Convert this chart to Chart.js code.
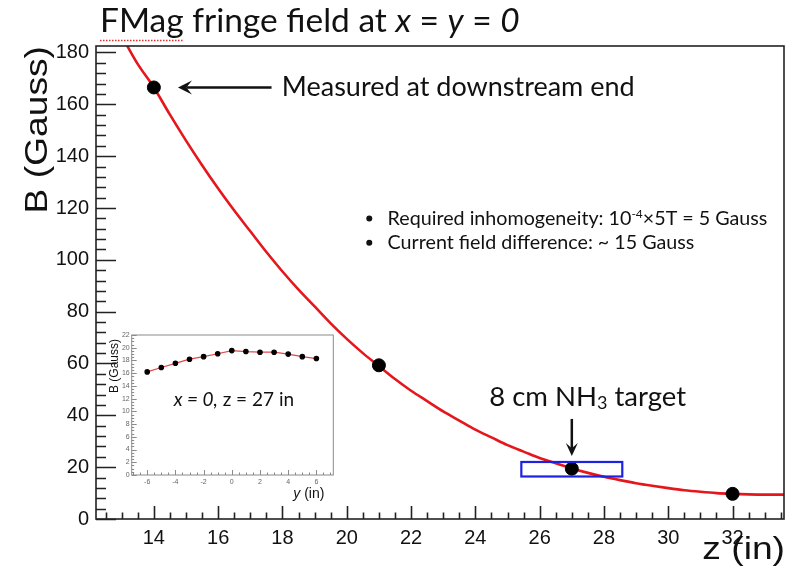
<!DOCTYPE html>
<html>
<head>
<meta charset="utf-8">
<script src="https://cdn.jsdelivr.net/npm/chart.js@4.4.0/dist/chart.umd.min.js"></script>
<style>
  html, body { margin: 0; padding: 0; background: #fff; }
  #wrap { position: relative; width: 796px; height: 567px; }
  #main { position: absolute; left: 0; top: 0; }
  #inset { position: absolute; left: 100px; top: 322px; }
</style>
</head>
<body>
<div id="wrap">
  <canvas id="main" width="796" height="567"></canvas>
  <canvas id="inset" width="245" height="180"></canvas>
</div>
<script>
// field along the axis (red curve), z in inches, B in Gauss
const curveZ = [13.15, 13.5, 14, 14.5, 15, 15.5, 16, 16.5, 17, 17.5, 18, 18.5, 19, 19.5, 20, 20.5,
  21, 21.5, 22, 22.5, 23, 23.5, 24, 24.5, 25, 25.5, 26, 26.5, 27, 27.5, 28, 28.5, 29, 29.5,
  30, 30.5, 31, 31.5, 32, 32.5, 33, 33.6];
const curveB = [183, 175.5, 166.5, 156, 146, 136.5, 127.5, 119, 111, 103, 95.5, 88.5, 82, 75.5, 69.5, 64,
  59, 54, 49.5, 45.5, 41.5, 38, 34.5, 31.5, 28.5, 26, 23.5, 21.5, 19.5, 17.8, 16.3, 15, 13.8, 12.8,
  11.9, 11.1, 10.5, 10, 9.7, 9.5, 9.4, 9.4];

// measured points
const measZ = [14, 21, 27, 32];
const measB = [166.5, 59.3, 19.4, 9.7];

// tick labels
const zTicks = [14, 16, 18, 20, 22, 24, 26, 28, 30, 32];
const bTicks = [0, 20, 40, 60, 80, 100, 120, 140, 160, 180];

// NH3 target extent (z) and box height (B)
const targetZ = [25.43, 28.57];
const targetB = [16.4, 22];

// inset: transverse scan at x = 0, z = 27 in
const insetY = [-6, -5, -4, -3, -2, -1, 0, 1, 2, 3, 4, 5, 6];
const insetB = [16.2, 16.9, 17.55, 18.2, 18.6, 19.05, 19.55, 19.4, 19.3, 19.3, 19.0, 18.6, 18.3];
const insetYTicks = [-6, -4, -2, 0, 2, 4, 6];
const insetBTicks = [0, 2, 4, 6, 8, 10, 12, 14, 16, 18, 20, 22];

const RED = '#e5161c';
const INK = '#111';
const GILL = 'Lato, "Open Sans", sans-serif';
const HELV = '"Liberation Sans", Arial, sans-serif';

// ROOT-like frame with inward ticks
const frameTicks = {
  id: 'frameTicks',
  afterDatasetsDraw(chart, args, o) {
    const { ctx, chartArea: a, scales: { x, y } } = chart;
    ctx.save();
    ctx.strokeStyle = o.color;
    ctx.lineWidth = o.lw;
    ctx.strokeRect(a.left, a.top, a.right - a.left, a.bottom - a.top);
    ctx.beginPath();
    const isMajor = (v, m) => Math.abs(v / m - Math.round(v / m)) < 1e-6;
    for (let v = Math.ceil(x.min / o.xMinor) * o.xMinor; v <= x.max + 1e-9; v += o.xMinor) {
      const px = Math.round(x.getPixelForValue(v)) + 0.5;
      const len = isMajor(v, o.xMajor) ? o.xLen : o.xLen / 2;
      ctx.moveTo(px, a.bottom);
      ctx.lineTo(px, a.bottom - len);
    }
    for (let v = Math.ceil(y.min / o.yMinor) * o.yMinor; v <= y.max + 1e-9; v += o.yMinor) {
      const py = Math.round(y.getPixelForValue(v)) + 0.5;
      const len = isMajor(v, o.yMajor) ? o.yLen : o.yLen / 2;
      ctx.moveTo(a.left, py);
      ctx.lineTo(a.left + len, py);
    }
    ctx.stroke();
    ctx.restore();
  }
};

function drawRuns(ctx, runs, x, y) {
  ctx.textAlign = 'left';
  ctx.textBaseline = 'alphabetic';
  for (const [t, f, dy] of runs) {
    ctx.font = f;
    ctx.fillText(t, x, y + (dy || 0));
    x += ctx.measureText(t).width;
  }
  return x;
}

function runsWidth(ctx, runs) {
  let w = 0;
  for (const [t, f] of runs) { ctx.font = f; w += ctx.measureText(t).width; }
  return w;
}

function arrow(ctx, x1, y1, x2, y2, head, half) {
  const c = Math.cos(Math.atan2(y2 - y1, x2 - x1));
  const s = Math.sin(Math.atan2(y2 - y1, x2 - x1));
  ctx.beginPath();
  ctx.moveTo(x1, y1);
  ctx.lineTo(x2 - c * head * 0.6, y2 - s * head * 0.6);
  ctx.stroke();
  ctx.beginPath();
  ctx.moveTo(x2, y2);
  ctx.lineTo(x2 - c * head - s * half, y2 - s * head + c * half);
  ctx.lineTo(x2 - c * head * 0.6, y2 - s * head * 0.6);
  ctx.lineTo(x2 - c * head + s * half, y2 - s * head - c * half);
  ctx.closePath();
  ctx.fill();
}

// titles and slide annotations
const annotations = {
  id: 'annotations',
  afterDraw(chart) {
    const { ctx, chartArea: a, scales: { x, y } } = chart;
    ctx.save();
    ctx.fillStyle = INK;
    ctx.strokeStyle = INK;

    // title
    const tN = '33.5px ' + GILL, tI = 'italic 33.5px ' + GILL;
    ctx.font = tN;
    const fmagW = ctx.measureText('FMag').width;
    drawRuns(ctx, [['FMag fringe field at ', tN], ['x', tI], [' = ', tN], ['y', tI], [' = ', tN], ['0', tI]], 100, 32);
    ctx.save();
    ctx.strokeStyle = '#e03030';
    ctx.lineWidth = 1.5;
    ctx.setLineDash([1.5, 1.5]);
    ctx.beginPath();
    ctx.moveTo(100, 40.5);
    ctx.lineTo(100 + fmagW, 40.5);
    ctx.stroke();
    ctx.restore();

    // axis titles (slightly stretched along the text, like the ROOT output)
    ctx.font = '31px ' + HELV;
    ctx.save();
    ctx.translate(38, a.top);
    ctx.rotate(-Math.PI / 2);
    ctx.scale(1.2, 1);
    ctx.textAlign = 'right';
    ctx.textBaseline = 'middle';
    ctx.fillText('B (Gauss)', 0, 0);
    ctx.restore();
    ctx.save();
    ctx.translate(a.right + 1, 559);
    ctx.scale(1.2, 1);
    ctx.textAlign = 'right';
    ctx.textBaseline = 'alphabetic';
    ctx.fillText('z (in)', 0, 0);
    ctx.restore();

    // measured-at-downstream-end arrow
    ctx.lineWidth = 2.5;
    const yM = y.getPixelForValue(measB[0]);
    arrow(ctx, x.getPixelForValue(17.66), yM, x.getPixelForValue(14.75), yM, 14, 7);
    drawRuns(ctx, [['Measured at downstream end', '27px ' + GILL]], x.getPixelForValue(17.98), yM + 9);

    // bullets
    const bF = '19.7px ' + GILL, bS = '12px ' + GILL;
    const bx = x.getPixelForValue(20.7), tx = x.getPixelForValue(21.27);
    const b1 = y.getPixelForValue(115.9), b2 = y.getPixelForValue(106.6);
    [b1, b2].forEach(py => { ctx.beginPath(); ctx.arc(bx, py, 3, 0, Math.PI * 2); ctx.fill(); });
    drawRuns(ctx, [['Required inhomogeneity: 10', bF], ['-4', bS, -7], ['\u00d75T = 5 Gauss', bF]], tx, b1 + 6);
    drawRuns(ctx, [['Current field difference: ~ 15 Gauss', bF]], tx, b2 + 6);

    // target label, arrow and box
    const lF = '27.5px ' + GILL, lS = '18px ' + GILL;
    drawRuns(ctx, [['8 cm NH', lF], ['3', lS, 3], [' target', lF]], x.getPixelForValue(24.43), y.getPixelForValue(43.6));
    const xt = x.getPixelForValue(27);
    arrow(ctx, xt, y.getPixelForValue(38.6), xt, y.getPixelForValue(24.3), 13, 6);

    ctx.strokeStyle = '#1c22e0';
    ctx.lineWidth = 2.2;
    const bxL = x.getPixelForValue(targetZ[0]), bxR = x.getPixelForValue(targetZ[1]);
    const byT = y.getPixelForValue(targetB[1]), byB = y.getPixelForValue(targetB[0]);
    ctx.strokeRect(bxL, byT, bxR - bxL, byB - byT);
    ctx.restore();
  }
};

new Chart(document.getElementById('main'), {
  type: 'scatter',
  data: {
    datasets: [
      {
        type: 'line',
        data: curveZ.map((z, i) => ({ x: z, y: curveB[i] })),
        borderColor: RED,
        borderWidth: 2.6,
        pointRadius: 0,
        cubicInterpolationMode: 'monotone',
        fill: false,
        order: 2
      },
      {
        data: measZ.map((z, i) => ({ x: z, y: measB[i] })),
        backgroundColor: '#000',
        borderColor: '#000',
        pointRadius: 6.5,
        order: 1
      }
    ]
  },
  options: {
    responsive: false,
    animation: false,
    events: [],
    layout: { padding: { left: 0, top: 46, right: 12, bottom: 0 } },
    plugins: {
      legend: { display: false },
      tooltip: { enabled: false },
      frameTicks: { color: '#222', lw: 1.6, xMinor: 0.5, xMajor: 2, xLen: 13, yMinor: 4, yMajor: 20, yLen: 20 }
    },
    scales: {
      x: {
        type: 'linear', min: 12.2, max: 33.6,
        afterFit(s) { s.height = 48; },
        afterBuildTicks(s) { s.ticks = zTicks.map(v => ({ value: v })); },
        grid: { display: false, drawTicks: false },
        border: { display: false },
        ticks: { font: { family: HELV, size: 20 }, color: INK, padding: 7, maxRotation: 0 }
      },
      y: {
        type: 'linear', min: 0, max: 182.5,
        afterFit(s) { s.width = 96; },
        afterBuildTicks(s) { s.ticks = bTicks.map(v => ({ value: v })); },
        grid: { display: false, drawTicks: false },
        border: { display: false },
        ticks: { font: { family: HELV, size: 20 }, color: INK, padding: 7 }
      }
    }
  },
  plugins: [frameTicks, annotations]
});

// inset labels
const insetLabels = {
  id: 'insetLabels',
  afterDraw(chart) {
    const { ctx, chartArea: a, scales: { x, y } } = chart;
    ctx.save();
    ctx.fillStyle = INK;
    ctx.font = '12px ' + HELV;
    ctx.save();
    ctx.translate(15, a.top + 4);
    ctx.rotate(-Math.PI / 2);
    ctx.textAlign = 'right';
    ctx.textBaseline = 'middle';
    ctx.fillText('B (Gauss)', 0, 0);
    ctx.restore();
    drawRuns(ctx, [['y', 'italic 14px ' + HELV], [' (in)', '14px ' + HELV]], a.right - 40, a.bottom + 23);

    const f = '19px ' + GILL, fi = 'italic 19px ' + GILL;
    const runs = [['x = 0,', fi], [' z = 27 in', f]];
    const w = runsWidth(ctx, runs);
    drawRuns(ctx, runs, x.getPixelForValue(0.15) - w / 2, y.getPixelForValue(11.9) + 7);
    ctx.restore();
  }
};

new Chart(document.getElementById('inset'), {
  type: 'scatter',
  data: {
    datasets: [{
      type: 'line',
      data: insetY.map((v, i) => ({ x: v, y: insetB[i] })),
      borderColor: '#e04848',
      borderWidth: 1.2,
      pointRadius: 2.2,
      pointBackgroundColor: '#000',
      pointBorderColor: '#000',
      tension: 0,
      fill: false
    }]
  },
  options: {
    responsive: false,
    animation: false,
    events: [],
    layout: { padding: { left: 0, top: 13, right: 11.7, bottom: 0 } },
    plugins: {
      legend: { display: false },
      tooltip: { enabled: false },
      frameTicks: { color: '#8a8a8a', lw: 1, xMinor: 0.5, xMajor: 2, xLen: 5, yMinor: 0.5, yMajor: 2, yLen: 5 }
    },
    scales: {
      x: {
        type: 'linear', min: -7.1, max: 7.2,
        afterFit(s) { s.height = 27; },
        afterBuildTicks(s) { s.ticks = insetYTicks.map(v => ({ value: v })); },
        grid: { display: false, drawTicks: false },
        border: { display: false },
        ticks: { font: { family: HELV, size: 7 }, color: '#666', padding: 3, maxRotation: 0 }
      },
      y: {
        type: 'linear', min: 0, max: 22,
        afterFit(s) { s.width = 31.7; },
        afterBuildTicks(s) { s.ticks = insetBTicks.map(v => ({ value: v })); },
        grid: { display: false, drawTicks: false },
        border: { display: false },
        ticks: { font: { family: HELV, size: 7 }, color: '#666', padding: 2 }
      }
    }
  },
  plugins: [frameTicks, insetLabels]
});
</script>
</body>
</html>
